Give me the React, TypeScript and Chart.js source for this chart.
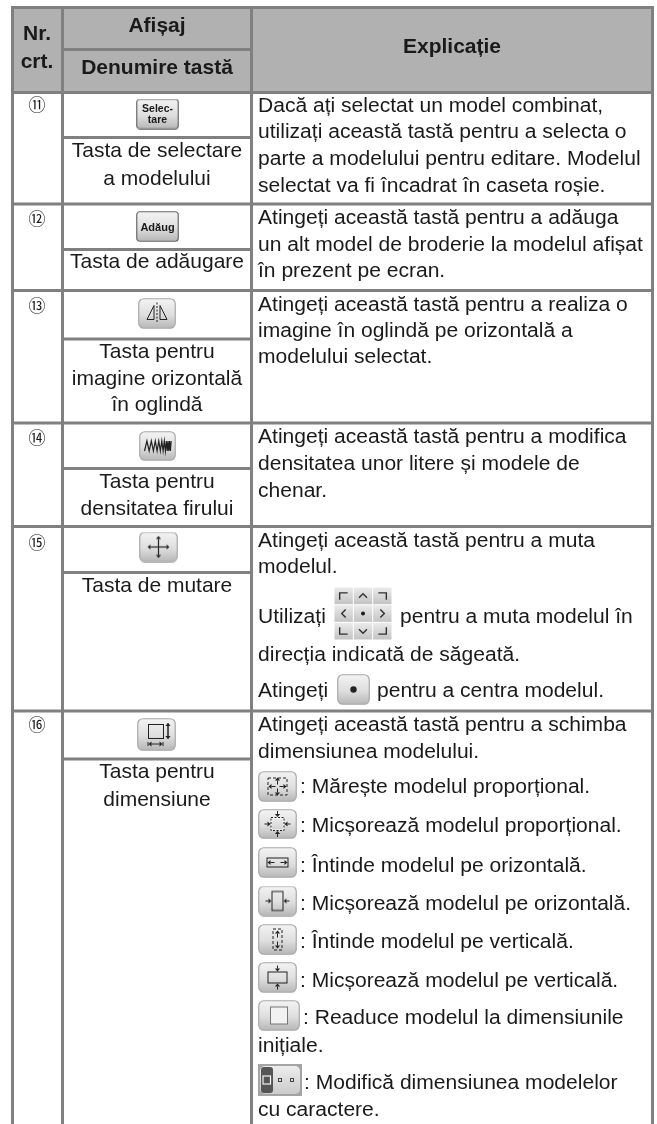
import React, { useEffect, useRef } from "react";
import { Chart, registerables } from "chart.js";

Chart.register(...registerables);

const WIDTH = 657;
const HEIGHT = 1124;
const LINE = "#808080";
const HEAD = "#b1b1b1";
const INK = "#1a1a1a";
const BODY_FONT = '21.05px "Liberation Sans"';
const NAME_FONT = '21px "Liberation Sans"';
const BOLD_FONT = 'bold 21px "Liberation Sans"';

// ---- grid ----
const columnEdges = [12.5, 62.5, 251.5, 652.5];
const tableTop = 7.5;
const headerSplit = 49.5;
const headerBottom = 92.5;
const rowEdges = [204, 290.5, 423, 526.5, 711];
const subRowEdges = [137.5, 249.5, 339, 468.5, 572.5, 759];

// ---- header ----
const headerTexts = ["Nr.", "crt.", "Afișaj", "Denumire tastă", "Explicație"];
const headerX = [37, 37, 157, 157, 452];
const headerY = [40, 68, 32, 74, 53];

// ---- row numbers ----
const rowNumbers = ["⑪", "⑫", "⑬", "⑭", "⑮", "⑯"];
const rowNumberY = [111, 225, 312, 444, 549, 731];

// ---- key names (middle column) ----
const keyNames = [
  "Tasta de selectare", "a modelului", "Tasta de adăugare", "Tasta pentru",
  "imagine orizontală", "în oglindă", "Tasta pentru", "densitatea firului",
  "Tasta de mutare", "Tasta pentru", "dimensiune",
];
const keyNameY = [157, 185, 268, 358, 385, 411, 488, 515, 592, 778, 806];

// ---- explanations ----
const explanations = [
  "Dacă ați selectat un model combinat,",
  "utilizați această tastă pentru a selecta o",
  "parte a modelului pentru editare. Modelul",
  "selectat va fi încadrat în caseta roșie.",
  "Atingeți această tastă pentru a adăuga",
  "un alt model de broderie la modelul afișat",
  "în prezent pe ecran.",
  "Atingeți această tastă pentru a realiza o",
  "imagine în oglindă pe orizontală a",
  "modelului selectat.",
  "Atingeți această tastă pentru a modifica",
  "densitatea unor litere și modele de",
  "chenar.",
  "Atingeți această tastă pentru a muta",
  "modelul.",
  "Utilizați",
  "direcția indicată de săgeată.",
  "Atingeți",
  "Atingeți această tastă pentru a schimba",
  "dimensiunea modelului.",
  "inițiale.",
  "cu caractere.",
];
const explanationY = [112, 138, 165, 192, 224, 251, 277, 311, 337, 363, 443, 470, 497, 547, 573, 623, 661, 697, 731, 758, 1052, 1116];

const inlineTexts = [
  "pentru a muta modelul în",
  "pentru a centra modelul.",
  ": Mărește modelul proporțional.",
  ": Micșorează modelul proporțional.",
  ": Întinde modelul pe orizontală.",
  ": Micșorează modelul pe orizontală.",
  ": Întinde modelul pe verticală.",
  ": Micșorează modelul pe verticală.",
  ": Readuce modelul la dimensiunile",
  ": Modifică dimensiunea modelelor",
];
const inlineX = [400, 377, 300, 300, 300, 300, 300, 300, 303, 304];
const inlineY = [623, 697, 793, 832, 872, 910, 948, 987, 1024, 1089];

// ---- keys ----
const keyKinds = [
  "select", "add", "mirror", "density", "move", "size", "grid", "dot",
  "grow", "shrink", "wide", "narrow", "tall", "flat", "reset", "chars",
];
const keyX = [157.5, 157.5, 157, 157.5, 158.5, 156.5, 363, 353.5, 277.5, 277.5, 277.5, 277.5, 277.5, 277.5, 279, 280];
const keyY = [114, 226.5, 313.5, 446, 547, 734.5, 613.5, 689.5, 786.5, 824, 862.5, 901, 939.5, 977.5, 1015.5, 1080];
const keyW = [43, 43, 38, 37, 39, 39, 58, 33, 39, 39, 39, 39, 39, 39, 42, 44];
const keyH = [31, 31, 31, 30, 31, 33, 53, 31, 31, 30, 31, 31, 31, 31, 31, 32];

const keyCaptions = ["Selec-", "tare", "Adăug"];
const keyCaptionY = [112, 123, 231];

type C2D = CanvasRenderingContext2D;

function rr(c: C2D, x: number, y: number, w: number, h: number, r: number) {
  c.beginPath();
  c.roundRect(x, y, w, h, r);
}

function arrow(c: C2D, x: number, y: number, dx: number, dy: number, len = 5) {
  const ex = x + dx * len;
  const ey = y + dy * len;
  c.beginPath();
  c.moveTo(x, y);
  c.lineTo(ex, ey);
  c.stroke();
  c.beginPath();
  c.moveTo(ex + dx * 3, ey + dy * 3);
  c.lineTo(ex - dy * 2.6, ey + dx * 2.6);
  c.lineTo(ex + dy * 2.6, ey - dx * 2.6);
  c.closePath();
  c.fill();
}

function body(c: C2D, w: number, h: number, edge = "#a9a9a9", r = 5) {
  const g = c.createLinearGradient(0, 0, 0, h);
  g.addColorStop(0, "#f4f4f4");
  g.addColorStop(0.55, "#dedede");
  g.addColorStop(1, "#b4b4b4");
  rr(c, 0.75, 0.75, w - 1.5, h - 1.5, r);
  c.fillStyle = g;
  c.fill();
  c.lineWidth = 1.2;
  c.strokeStyle = edge;
  c.stroke();
}

function keyFace(kind: string, w: number, h: number): HTMLCanvasElement {
  const cv = document.createElement("canvas");
  cv.width = w;
  cv.height = h;
  const c = cv.getContext("2d") as C2D;
  const mx = w / 2;
  const my = h / 2;
  const dark = "#222";
  if (kind === "grid") {
    const cw = w / 3;
    const ch = h / 3;
    for (let r = 0; r < 3; r++) {
      for (let k = 0; k < 3; k++) {
        const g = c.createLinearGradient(0, r * ch, 0, (r + 1) * ch);
        g.addColorStop(0, "#ececec");
        g.addColorStop(1, "#c2c2c2");
        c.fillStyle = g;
        c.fillRect(k * cw + 0.5, r * ch + 0.5, cw - 1, ch - 1);
      }
    }
    c.strokeStyle = "#303030";
    c.fillStyle = "#1a1a1a";
    c.lineWidth = 1.4;
    const q = 4;
    const sides: number[][] = [
      [cw / 2 - q, ch / 2 + q, cw / 2 - q, ch / 2 - q + 1, cw / 2 + q, ch / 2 - q + 1],
      [w - cw / 2 - q, ch / 2 - q + 1, w - cw / 2 + q, ch / 2 - q + 1, w - cw / 2 + q, ch / 2 + q],
      [cw / 2 - q, h - ch / 2 - q, cw / 2 - q, h - ch / 2 + q - 1, cw / 2 + q, h - ch / 2 + q - 1],
      [w - cw / 2 - q, h - ch / 2 + q - 1, w - cw / 2 + q, h - ch / 2 + q - 1, w - cw / 2 + q, h - ch / 2 - q],
      [mx - q, ch / 2 + 2, mx, ch / 2 - 2, mx + q, ch / 2 + 2],
      [mx - q, h - ch / 2 - 2, mx, h - ch / 2 + 2, mx + q, h - ch / 2 - 2],
      [cw / 2 + 2, my - q, cw / 2 - 2, my, cw / 2 + 2, my + q],
      [w - cw / 2 - 2, my - q, w - cw / 2 + 2, my, w - cw / 2 - 2, my + q],
    ];
    sides.forEach((s) => {
      c.beginPath();
      c.moveTo(s[0], s[1]);
      c.lineTo(s[2], s[3]);
      c.lineTo(s[4], s[5]);
      c.stroke();
    });
    c.beginPath();
    c.arc(mx, my, 2, 0, Math.PI * 2);
    c.fill();
    return cv;
  }
  if (kind === "chars") {
    c.fillStyle = "#a4a4a4";
    c.fillRect(0, 0, w, h);
    rr(c, 2, 2, w - 4, h - 4, 5);
    const g = c.createLinearGradient(0, 0, 0, h);
    g.addColorStop(0, "#f0f0f0");
    g.addColorStop(1, "#c8c8c8");
    c.fillStyle = g;
    c.fill();
    c.fillStyle = "#555";
    rr(c, 3, 3, 12, h - 6, 3);
    c.fill();
    c.strokeStyle = "#f4f4f4";
    c.lineWidth = 1.2;
    c.strokeRect(5, 12, 7.5, 8);
    c.strokeStyle = "#444";
    c.lineWidth = 1;
    c.strokeRect(20.5, 14.5, 3, 3);
    c.strokeRect(32.5, 14.5, 3, 3);
    return cv;
  }
  const selectLike = kind === "select" || kind === "add";
  body(c, w, h, selectLike ? "#6a6a6a" : "#a9a9a9", selectLike ? 3 : 5);
  c.strokeStyle = dark;
  c.fillStyle = dark;
  c.lineWidth = 1;
  switch (kind) {
    case "mirror": {
      c.beginPath();
      c.moveTo(mx - 3, my - 8);
      c.lineTo(mx - 3, my + 6);
      c.lineTo(mx - 10, my + 6);
      c.closePath();
      c.moveTo(mx + 3, my - 8);
      c.lineTo(mx + 3, my + 6);
      c.lineTo(mx + 10, my + 6);
      c.closePath();
      c.stroke();
      c.setLineDash([2, 1.5]);
      c.beginPath();
      c.moveTo(mx, my - 11);
      c.lineTo(mx, my + 10);
      c.stroke();
      c.setLineDash([]);
      break;
    }
    case "density": {
      c.lineWidth = 1.2;
      c.beginPath();
      c.moveTo(mx - 13, my + 5);
      let px = mx - 13;
      let step = 2.4;
      let up = true;
      while (px < mx + 13) {
        px += step;
        c.lineTo(px, up ? my - 5 : my + 5);
        up = !up;
        step = Math.max(0.8, step - 0.12);
      }
      c.stroke();
      break;
    }
    case "move": {
      c.lineWidth = 1.2;
      arrow(c, mx, my, 0, -1, 8);
      arrow(c, mx, my, 0, 1, 8);
      arrow(c, mx, my, -1, 0, 8);
      arrow(c, mx, my, 1, 0, 8);
      break;
    }
    case "size": {
      c.strokeRect(11.5, 6.5, 15, 14);
      c.beginPath();
      c.moveTo(31, 5);
      c.lineTo(31, 21);
      c.stroke();
      arrow(c, 31, 13, 0, -1, 5);
      arrow(c, 31, 13, 0, 1, 5);
      c.beginPath();
      c.moveTo(11, 24);
      c.lineTo(11, 28);
      c.moveTo(26, 24);
      c.lineTo(26, 28);
      c.stroke();
      arrow(c, 18.5, 26, -1, 0, 4);
      arrow(c, 18.5, 26, 1, 0, 4);
      break;
    }
    case "dot": {
      c.beginPath();
      c.arc(mx, my, 3.2, 0, Math.PI * 2);
      c.fill();
      break;
    }
    case "grow": {
      c.setLineDash([3, 2]);
      c.strokeRect(mx - 9.5, my - 8.5, 19, 17);
      c.setLineDash([]);
      arrow(c, mx, my - 2, 0, -1, 4);
      arrow(c, mx, my + 2, 0, 1, 4);
      arrow(c, mx - 2, my, -1, 0, 4);
      arrow(c, mx + 2, my, 1, 0, 4);
      break;
    }
    case "shrink": {
      c.strokeStyle = "#fafafa";
      c.strokeRect(mx - 6, my - 6, 12, 12);
      c.strokeStyle = dark;
      c.setLineDash([2, 1.5]);
      c.strokeRect(mx - 6.5, my - 6.5, 13, 13);
      c.setLineDash([]);
      arrow(c, mx, my - 13, 0, 1, 3);
      arrow(c, mx, my + 13, 0, -1, 3);
      arrow(c, mx - 13, my, 1, 0, 3);
      arrow(c, mx + 13, my, -1, 0, 3);
      break;
    }
    case "wide": {
      c.strokeRect(mx - 10.5, my - 4.5, 21, 9);
      arrow(c, mx - 3, my, -1, 0, 4);
      arrow(c, mx + 3, my, 1, 0, 4);
      break;
    }
    case "narrow": {
      c.strokeRect(mx - 5.5, my - 9.5, 11, 19);
      arrow(c, mx - 12, my, 1, 0, 3);
      arrow(c, mx + 12, my, -1, 0, 3);
      break;
    }
    case "tall": {
      c.setLineDash([3, 2]);
      c.strokeRect(mx - 4.5, my - 10.5, 9, 21);
      c.setLineDash([]);
      arrow(c, mx, my - 2, 0, -1, 4);
      arrow(c, mx, my + 2, 0, 1, 4);
      break;
    }
    case "flat": {
      c.strokeRect(mx - 9.5, my - 5.5, 19, 11);
      arrow(c, mx, my - 12, 0, 1, 3);
      arrow(c, mx, my + 12, 0, -1, 3);
      break;
    }
    case "reset": {
      c.strokeStyle = "#777";
      c.fillStyle = "#f2f2f2";
      c.fillRect(mx - 8.5, my - 8.5, 17, 17);
      c.strokeRect(mx - 8.5, my - 8.5, 17, 17);
      break;
    }
    default:
      break;
  }
  return cv;
}

const tablePlugin = {
  id: "tableText",
  afterDatasetsDraw(chart: any) {
    const c: C2D = chart.ctx;
    const sx = chart.scales.x;
    const sy = chart.scales.y;
    const put = (t: string, x: number, y: number, font: string, align: CanvasTextAlign) => {
      c.font = font;
      c.textAlign = align;
      c.textBaseline = "alphabetic";
      c.fillStyle = INK;
      c.fillText(t, sx.getPixelForValue(x), sy.getPixelForValue(y));
    };
    c.save();
    headerTexts.forEach((t, i) => put(t, headerX[i], headerY[i], BOLD_FONT, "center"));
    rowNumbers.forEach((t, i) => put(t, 37, rowNumberY[i], '17px "Noto Sans CJK JP"', "center"));
    keyNames.forEach((t, i) => put(t, 157, keyNameY[i], NAME_FONT, "center"));
    explanations.forEach((t, i) => put(t, 258, explanationY[i], BODY_FONT, "left"));
    inlineTexts.forEach((t, i) => put(t, inlineX[i], inlineY[i], BODY_FONT, "left"));
    keyCaptions.forEach((t, i) => put(t, 157.5, keyCaptionY[i], `bold ${i === 2 ? 11 : 10.5}px "Liberation Sans"`, "center"));
    c.restore();
  },
};

const seg = (x0: number, y0: number, x1: number, y1: number) => ({
  type: "line" as const,
  data: [{ x: x0, y: y0 }, { x: x1, y: y1 }],
  borderColor: LINE,
  borderWidth: 3,
  pointRadius: 0,
  fill: false,
  tension: 0,
  order: 2,
});

export default function App() {
  const ref = useRef<HTMLCanvasElement>(null);
  useEffect(() => {
    if (!ref.current) return;
    const [c0, c1, c2, c3] = columnEdges;
    const faces = keyKinds.map((k, i) => keyFace(k, keyW[i], keyH[i]));
    const chart = new Chart(ref.current, {
      type: "scatter",
      data: {
        datasets: [
          {
            type: "line",
            data: [{ x: c0, y: tableTop }, { x: c3, y: tableTop }],
            borderWidth: 0,
            pointRadius: 0,
            backgroundColor: HEAD,
            fill: { value: headerBottom },
            order: 3,
          } as any,
          seg(c0 - 1.5, tableTop, c3 + 1.5, tableTop),
          seg(c0, tableTop, c0, HEIGHT),
          seg(c1, tableTop, c1, HEIGHT),
          seg(c2, tableTop, c2, HEIGHT),
          seg(c3, tableTop, c3, HEIGHT),
          seg(c0, headerBottom, c3, headerBottom),
          seg(c1, headerSplit, c2, headerSplit),
          ...rowEdges.map((y) => seg(c0, y, c3, y)),
          ...subRowEdges.map((y) => seg(c1, y, c2, y)),
          {
            type: "scatter",
            data: keyX.map((x, i) => ({ x, y: keyY[i] })),
            pointStyle: faces,
            pointRadius: 8,
            showLine: false,
            order: 1,
          } as any,
        ] as any,
      },
      options: {
        animation: false,
        responsive: false,
        events: [],
        layout: { padding: 0, autoPadding: false },
        plugins: { legend: { display: false }, tooltip: { enabled: false } },
        scales: {
          x: { type: "linear", min: 0, max: WIDTH, display: false },
          y: { type: "linear", min: 0, max: HEIGHT, reverse: true, display: false },
        },
      },
      plugins: [tablePlugin],
    });
    return () => chart.destroy();
  }, []);
  return (
    <div style={{ position: "absolute", left: 0, top: 0, width: WIDTH, height: HEIGHT, background: "#fff" }}>
      <canvas ref={ref} width={WIDTH} height={HEIGHT} style={{ display: "block" }} />
    </div>
  );
}
